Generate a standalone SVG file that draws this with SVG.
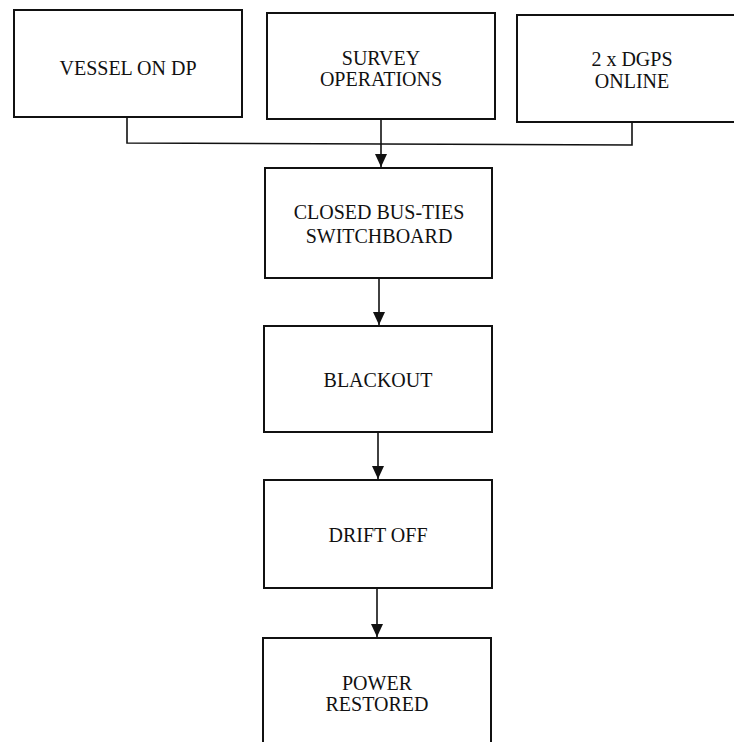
<svg xmlns="http://www.w3.org/2000/svg" width="734" height="742" viewBox="0 0 734 742">
  <defs>
    <marker id="arrow" viewBox="0 0 13 12" refX="13" refY="6" markerWidth="13" markerHeight="12" markerUnits="userSpaceOnUse" orient="auto">
      <path d="M0,0 L13,6 L0,12 Z" fill="#111"/>
    </marker>
    <style>
      .box { fill: #fff; stroke: #111; stroke-width: 2; }
      .label { font-family: "Liberation Serif", "Times New Roman", serif; font-size: 20px; fill: #111; text-anchor: middle; }
      .conn { fill: none; stroke: #111; stroke-width: 1.6; }
    </style>
  </defs>
  <rect width="734" height="742" fill="#fff"/>

  <g id="vessel-on-dp">
    <rect class="box" x="14" y="10" width="228" height="107"/>
    <text class="label" x="128" y="75">VESSEL ON DP</text>
  </g>

  <g id="survey-operations">
    <rect class="box" x="267" y="13" width="228" height="106"/>
    <text class="label" x="381" y="65">SURVEY</text>
    <text class="label" x="381" y="86">OPERATIONS</text>
  </g>

  <g id="dgps-online">
    <rect class="box" x="517" y="15" width="230" height="107"/>
    <text class="label" x="632" y="66">2 x DGPS</text>
    <text class="label" x="632" y="88">ONLINE</text>
  </g>

  <g id="closed-bus-ties">
    <rect class="box" x="265" y="168" width="227" height="110"/>
    <text class="label" x="379" y="219">CLOSED BUS-TIES</text>
    <text class="label" x="379" y="243">SWITCHBOARD</text>
  </g>

  <g id="blackout">
    <rect class="box" x="264" y="326" width="228" height="106"/>
    <text class="label" x="378" y="387">BLACKOUT</text>
  </g>

  <g id="drift-off">
    <rect class="box" x="264" y="480" width="228" height="108"/>
    <text class="label" x="378" y="542">DRIFT OFF</text>
  </g>

  <g id="power-restored">
    <rect class="box" x="263" y="638" width="228" height="120"/>
    <text class="label" x="377" y="690">POWER</text>
    <text class="label" x="377" y="711">RESTORED</text>
  </g>

  <g id="connectors">
    <!-- merge bus from the three top boxes -->
    <polyline class="conn" points="127,117 127,143 632,145 632,122"/>
    <line class="conn" x1="381" y1="119" x2="381" y2="167" marker-end="url(#arrow)"/>
    <line class="conn" x1="379" y1="278" x2="379" y2="325" marker-end="url(#arrow)"/>
    <line class="conn" x1="378" y1="432" x2="378" y2="479" marker-end="url(#arrow)"/>
    <line class="conn" x1="377" y1="588" x2="377" y2="637" marker-end="url(#arrow)"/>
  </g>
</svg>
